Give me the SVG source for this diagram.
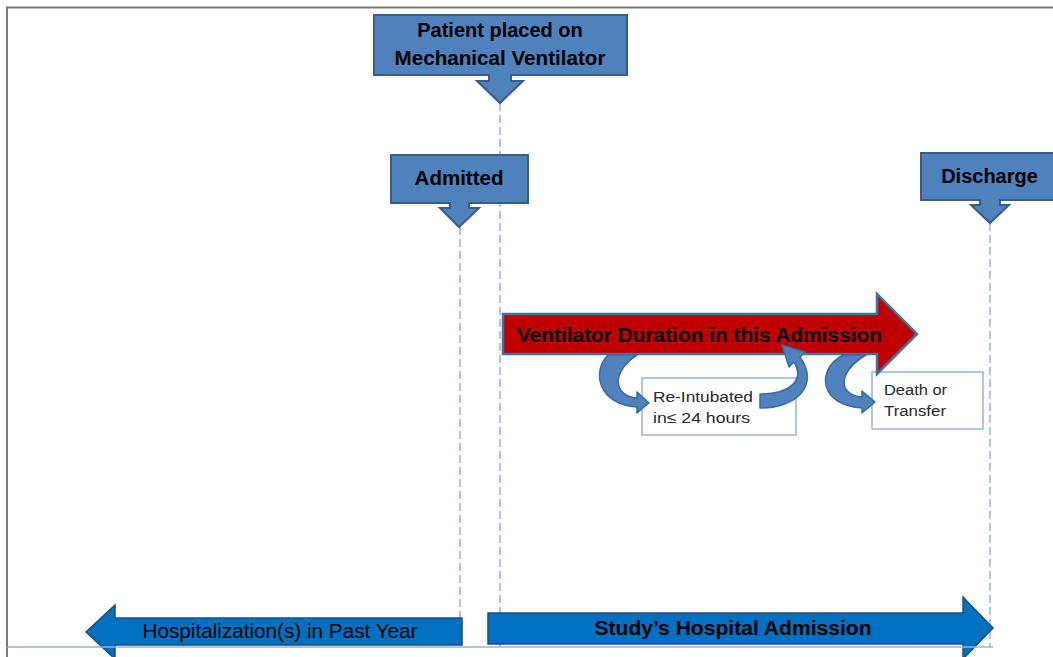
<svg xmlns="http://www.w3.org/2000/svg" width="1053" height="657" viewBox="0 0 1053 657">
<style>
  .t { font-family: "Liberation Sans", Arial, sans-serif; fill: #000; }
  .b { font-weight: bold; }
  .callout { fill: #4f81bd; stroke: #385d8a; stroke-width: 2; stroke-linejoin: miter; }
  .guide { stroke: #95b3d7; stroke-width: 1.5; stroke-dasharray: 8 4; fill: none; }
  .box { fill: #fff; stroke: #95b3d7; stroke-width: 1.5; }
  .curve { fill: #4f81bd; stroke: #3a6aa0; stroke-width: 1.5; stroke-linejoin: round; }
  .band { fill: #0070c0; stroke: #1f4e79; stroke-width: 1.5; }
  .small { font-size: 15.5px; fill: #262626; }
</style>
<rect x="0" y="0" width="1053" height="657" fill="#fff"/>
<g id="frame">
  <line x1="6" y1="7.5" x2="1053" y2="7.5" stroke="#7a7a7a" stroke-width="2"/>
  <line x1="7" y1="7" x2="7" y2="657" stroke="#7a7a7a" stroke-width="2"/>
</g>
<g id="connectors">
  <line class="guide" x1="500" y1="103" x2="500" y2="647"/>
  <line class="guide" x1="460" y1="227" x2="460" y2="647"/>
  <line class="guide" x1="990" y1="223" x2="990" y2="647"/>
</g>
<g id="node-ventilator">
  <path class="callout" d="M374 15 H627 V75 H511 V81 H523 L500 103 L477 81 H489 V75 H374 Z"/>
  <text class="t b" x="500" y="37" font-size="20" text-anchor="middle">Patient placed on</text>
  <text class="t b" x="500" y="65" font-size="20" text-anchor="middle" textLength="211" lengthAdjust="spacingAndGlyphs">Mechanical Ventilator</text>
</g>
<g id="node-admitted">
  <path class="callout" d="M391 155 H528 V203 H469 V208 H479 L459 227 L440 208 H450 V203 H391 Z"/>
  <text class="t b" x="459" y="185" font-size="20.5" text-anchor="middle">Admitted</text>
</g>
<g id="node-discharge">
  <path class="callout" d="M921 153 H1062 V200 H1000 V205 H1009 L990 223 L971 205 H980 V200 H921 Z"/>
  <text class="t b" x="989.5" y="183" font-size="20" text-anchor="middle">Discharge</text>
</g>
<g id="node-reintubated">
  <rect class="box" x="642" y="378" width="154" height="57"/>
  <text class="t small" x="653" y="402" textLength="100" lengthAdjust="spacingAndGlyphs">Re-Intubated</text>
  <text class="t small" x="653" y="423" textLength="97" lengthAdjust="spacingAndGlyphs">in≤ 24 hours</text>
</g>
<g id="node-death">
  <rect class="box" x="872" y="372" width="111" height="57"/>
  <text class="t small" x="884" y="395" textLength="63" lengthAdjust="spacingAndGlyphs">Death or</text>
  <text class="t small" x="884" y="416" textLength="62" lengthAdjust="spacingAndGlyphs">Transfer</text>
</g>
<g id="node-duration">
  <path d="M503 314 H877 V294 L917 334 L877 374 V354 H503 Z" fill="#c00000" stroke="#41719c" stroke-width="2.5" stroke-linejoin="miter"/>
  <text class="t b" x="517" y="342" font-size="21" textLength="365" lengthAdjust="spacingAndGlyphs">Ventilator Duration  in this Admission</text>
</g>
<g id="curved-arrows">
  <path class="curve" d="M608 355 C591 372 599 405 637 407 L637 413 L649 403 L637 392 L637 398 C613 396 611 372 637 355 Z"/>
  <path class="curve" d="M760 408 C797 408 820 385 800 357 L805 352 L782 345 L789 367 L794 362 C805 380 790 394 760 394 Z"/>
  <path class="curve" d="M843 355 C815 370 820 406 862 408 L862 413 L875 402 L862 391 L862 397 C838 395 837 372 866 355 Z"/>
</g>
<g id="node-past-year">
  <path class="band" d="M462 618 V645 H115 V659 L86 632 L115 605 V618 Z"/>
  <text class="t" x="280" y="638" font-size="20.5" text-anchor="middle" textLength="275" lengthAdjust="spacingAndGlyphs">Hospitalization(s) in Past Year</text>
</g>
<g id="node-study">
  <path class="band" d="M488 613 H963 V597 L993 628 L963 659 V644 H488 Z"/>
  <text class="t b" x="733" y="635" font-size="20" text-anchor="middle" textLength="277" lengthAdjust="spacingAndGlyphs">Study’s Hospital Admission</text>
</g>
<g id="baseline">
  <line x1="7" y1="647" x2="993" y2="647" stroke="#95b3d7" stroke-width="1.5"/>
</g>
</svg>
